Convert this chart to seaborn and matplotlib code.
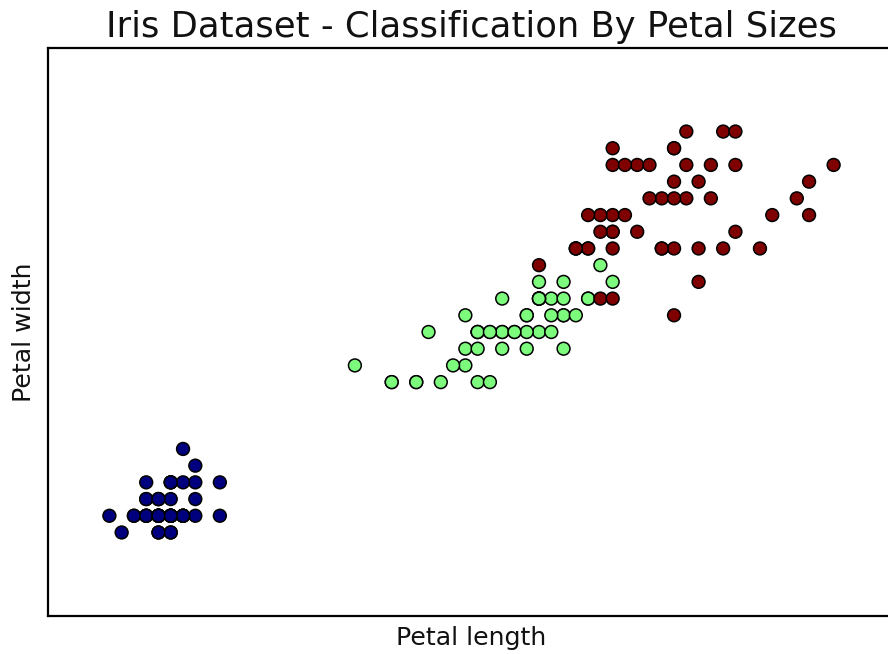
import pandas as pd
import matplotlib
matplotlib.use("Agg")
import matplotlib.pyplot as plt
import seaborn as sns

# Iris petal measurements, in dataset order (setosa, versicolor, virginica)
setosa_length = [1.4, 1.4, 1.3, 1.5, 1.4, 1.7, 1.4, 1.5, 1.4, 1.5,
                 1.5, 1.6, 1.4, 1.1, 1.2, 1.5, 1.3, 1.4, 1.7, 1.5,
                 1.7, 1.5, 1.0, 1.7, 1.9, 1.6, 1.6, 1.5, 1.4, 1.6,
                 1.6, 1.5, 1.5, 1.4, 1.5, 1.2, 1.3, 1.4, 1.3, 1.5,
                 1.3, 1.3, 1.3, 1.6, 1.9, 1.4, 1.6, 1.4, 1.5, 1.4]
setosa_width = [0.2, 0.2, 0.2, 0.2, 0.2, 0.4, 0.3, 0.2, 0.2, 0.1,
                0.2, 0.2, 0.1, 0.1, 0.2, 0.4, 0.4, 0.3, 0.3, 0.3,
                0.2, 0.4, 0.2, 0.5, 0.2, 0.2, 0.4, 0.2, 0.2, 0.2,
                0.2, 0.4, 0.1, 0.2, 0.2, 0.2, 0.2, 0.1, 0.2, 0.2,
                0.3, 0.3, 0.2, 0.6, 0.4, 0.3, 0.2, 0.2, 0.2, 0.2]
versicolor_length = [4.7, 4.5, 4.9, 4.0, 4.6, 4.5, 4.7, 3.3, 4.6, 3.9,
                     3.5, 4.2, 4.0, 4.7, 3.6, 4.4, 4.5, 4.1, 4.5, 3.9,
                     4.8, 4.0, 4.9, 4.7, 4.3, 4.4, 4.8, 5.0, 4.5, 3.5,
                     3.8, 3.7, 3.9, 5.1, 4.5, 4.5, 4.7, 4.4, 4.1, 4.0,
                     4.4, 4.6, 4.0, 3.3, 4.2, 4.2, 4.2, 4.3, 3.0, 4.1]
versicolor_width = [1.4, 1.5, 1.5, 1.3, 1.5, 1.3, 1.6, 1.0, 1.3, 1.4,
                    1.0, 1.5, 1.0, 1.4, 1.3, 1.4, 1.5, 1.0, 1.5, 1.1,
                    1.8, 1.3, 1.5, 1.2, 1.3, 1.4, 1.4, 1.7, 1.5, 1.0,
                    1.1, 1.0, 1.2, 1.6, 1.5, 1.6, 1.5, 1.3, 1.3, 1.3,
                    1.2, 1.4, 1.2, 1.0, 1.3, 1.2, 1.3, 1.3, 1.1, 1.3]
virginica_length = [6.0, 5.1, 5.9, 5.6, 5.8, 6.6, 4.5, 6.3, 5.8, 6.1,
                    5.1, 5.3, 5.5, 5.0, 5.1, 5.3, 5.5, 6.7, 6.9, 5.0,
                    5.7, 4.9, 6.7, 4.9, 5.7, 6.0, 4.8, 4.9, 5.6, 5.8,
                    6.1, 6.4, 5.6, 5.1, 5.6, 6.1, 5.6, 5.5, 4.8, 5.4,
                    5.6, 5.1, 5.1, 5.9, 5.7, 5.2, 5.0, 5.2, 5.4, 5.1]
virginica_width = [2.5, 1.9, 2.1, 1.8, 2.2, 2.1, 1.7, 1.8, 1.8, 2.5,
                   2.0, 1.9, 2.1, 2.0, 2.4, 2.3, 1.8, 2.2, 2.3, 1.5,
                   2.3, 2.0, 2.0, 1.8, 2.1, 1.8, 1.8, 1.8, 2.1, 1.6,
                   1.9, 2.0, 2.2, 1.5, 1.4, 2.3, 2.4, 1.8, 1.8, 2.1,
                   2.4, 2.3, 1.9, 2.3, 2.5, 2.3, 1.9, 2.0, 2.3, 1.8]

species = ["setosa", "versicolor", "virginica"]
colors = {"setosa": "#00007f", "versicolor": "#7cfb7c", "virginica": "#7f0000"}

df = pd.DataFrame({
    "length": setosa_length + versicolor_length + virginica_length,
    "width": setosa_width + versicolor_width + virginica_width,
    "species": ["setosa"] * 50 + ["versicolor"] * 50 + ["virginica"] * 50,
})

sns.set_theme(style="white")
plt.rcParams["font.family"] = ["DejaVu Sans"]
plt.rcParams["text.color"] = "#111111"
plt.rcParams["axes.labelcolor"] = "#111111"

fig = plt.figure(figsize=(8.88, 6.54), dpi=100)
# right spine falls just outside the picture, as in the reference
ax = fig.add_axes([48 / 888, (654 - 616) / 654, (895 - 48) / 888, (616 - 48) / 654])

sns.scatterplot(data=df, x="length", y="width", hue="species", hue_order=species,
                palette=colors, s=85, edgecolor="black", linewidth=1.1,
                legend=False, ax=ax)

ax.set_xlim(df["length"].min() - 0.5, df["length"].max() + 0.5)
ax.set_ylim(df["width"].min() - 0.5, df["width"].max() + 0.5)
ax.set_xticks([])
ax.set_yticks([])
for sp in ax.spines.values():
    sp.set_color("black")
    sp.set_linewidth(1.6)

ax.set_title("Iris Dataset - Classification By Petal Sizes", fontsize=25.5, pad=8)
ax.set_xlabel("Petal length", fontsize=18.2, labelpad=7)
ax.set_ylabel("Petal width", fontsize=18.2, labelpad=9)

fig.savefig("out.png", dpi=100)
plt.close(fig)
